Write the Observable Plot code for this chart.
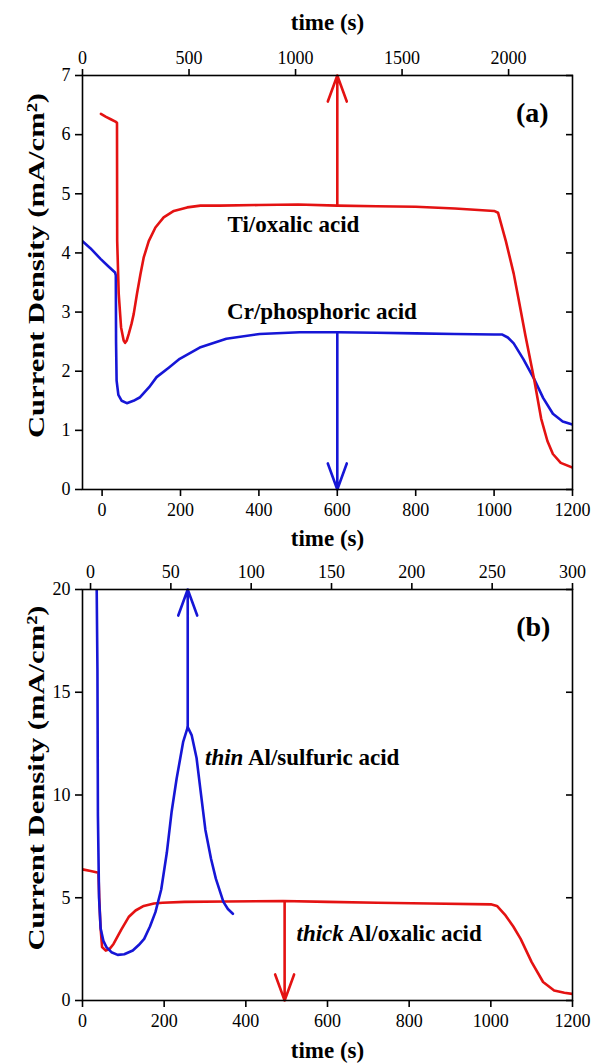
<!DOCTYPE html>
<html><head><meta charset="utf-8">
<script src="https://cdn.jsdelivr.net/npm/d3@7"></script>
<script src="https://cdn.jsdelivr.net/npm/@observablehq/plot@0.6"></script>
<style>
body{margin:0;background:#fff;}
#chart svg{display:block;}
</style>
</head><body><div id="chart"></div>
<script>
// ---------- Panel (a) data ----------
const aBottomDomain = [-50, 1200];
const aTopDomain = [0, 2300];
const aYDomain = [0, 7];
const aBottomTicks = [0, 200, 400, 600, 800, 1000, 1200];
const aTopTicks = [0, 500, 1000, 1500, 2000];
const aYTicks = [0, 1, 2, 3, 4, 5, 6, 7];

const aTiTime = [-3, 10, 22, 34, 38, 38.5, 42.4, 48.4, 55, 58.7, 63, 68, 75, 80.7, 89, 97.8, 106, 119, 136, 157, 183, 217, 251, 300, 400, 500, 600, 700, 800, 900, 950, 1000, 1010, 1030, 1050, 1063, 1080, 1102, 1120, 1136, 1150, 1170, 1200];
const aTiCurrent = [6.35, 6.3, 6.26, 6.22, 6.2, 4.2, 3.31, 2.74, 2.52, 2.48, 2.52, 2.63, 2.8, 2.97, 3.31, 3.64, 3.92, 4.2, 4.43, 4.6, 4.71, 4.77, 4.8, 4.8, 4.81, 4.82, 4.8, 4.79, 4.78, 4.75, 4.73, 4.71, 4.68, 4.2, 3.65, 3.2, 2.6, 1.87, 1.2, 0.82, 0.6, 0.45, 0.37];

const aCrTime = [-50, -30, -4, 15, 33, 35, 35.6, 37, 41.5, 50, 63, 80, 97, 120, 139, 170, 198, 249, 317, 402, 504, 600, 700, 800, 900, 1000, 1021, 1035, 1050, 1075, 1102, 1125, 1150, 1175, 1200];
const aCrCurrent = [4.2, 4.08, 3.9, 3.78, 3.67, 3.62, 2.5, 1.84, 1.6, 1.5, 1.46, 1.5, 1.56, 1.73, 1.9, 2.06, 2.21, 2.4, 2.55, 2.63, 2.66, 2.66, 2.65, 2.64, 2.63, 2.62, 2.62, 2.57, 2.47, 2.2, 1.87, 1.55, 1.28, 1.15, 1.1];

const aArrowTime = [600, 600];
const aArrowFrom = [4.8, 2.66];
const aArrowTo = [7, 0];
const aArrowSeries = ["Ti", "Cr"];

const aLabels = ["Ti/oxalic acid", "Cr/phosphoric acid", "(a)"];
const aLabelTime = [488, 561, 1139];
const aLabelValue = [4.48, 3.0, 6.37];

// ---------- Panel (b) data ----------
const bBottomDomain = [0, 1200];
const bTopDomain = [-5, 300];
const bYDomain = [0, 20];
const bBottomTicks = [0, 200, 400, 600, 800, 1000, 1200];
const bTopTicks = [0, 50, 100, 150, 200, 250, 300];
const bYTicks = [0, 5, 10, 15, 20];

const bThickTime = [0, 20, 39, 41, 44, 48, 57, 66, 76, 95, 113, 130, 150, 175, 196, 250, 350, 491, 600, 722, 850, 1000, 1015, 1036, 1055, 1073, 1100, 1128, 1155, 1180, 1200];
const bThickCurrent = [6.38, 6.3, 6.22, 5.0, 3.6, 2.6, 2.43, 2.5, 2.75, 3.45, 4.06, 4.38, 4.6, 4.72, 4.76, 4.8, 4.82, 4.84, 4.8, 4.76, 4.72, 4.68, 4.6, 4.14, 3.6, 3.0, 1.87, 0.9, 0.49, 0.38, 0.32];

// thin Al/sulfuric acid is read against the top time axis
const bThinTopTime = [3.6, 4.3, 4.6, 5.3, 6.3, 8, 9.9, 13, 16.9, 21, 26.3, 30, 33.4, 37, 40.4, 44, 47.5, 50.5, 53.6, 57.7, 60.5, 63, 66, 68.5, 71.5, 75, 78, 82.7, 85.5, 88.6];
const bThinCurrent = [22, 16.1, 9, 5, 3.5, 2.9, 2.6, 2.35, 2.22, 2.25, 2.43, 2.7, 3.0, 3.6, 4.3, 5.4, 7.2, 9.2, 10.8, 12.6, 13.3, 12.9, 11.8, 10.2, 8.3, 6.9, 5.93, 4.8, 4.45, 4.22];

const bArrowTopTime = [60.5];   // thin (top axis)
const bArrowBottomTime = [495]; // thick (bottom axis)
const bArrowFrom = [13.3, 4.8];
const bArrowTo = [20, 0];
const bArrowSeries = ["thin", "thick"];

const bLabels = ["thin Al/sulfuric acid", "thick Al/oxalic acid", "(b)"];
const bLabelTime = [538, 751, 1146];
const bLabelValue = [11.8, 3.25, 18.15];

// ---------- styling ----------
const RED = "#e41212";
const BLUE = "#1616d6";
const FONT = "'Liberation Serif', 'Times New Roman', serif";
const W = 591;
const yTitle = "Current Density (mA/cm\u00B2)";

function panel({height, marginTop, marginBottom, xDomain, yDomain, xTicks, topTicks, topDomain, yTicks, marks, bottomTitleDy}) {
  const toTop = d3.scaleLinear().domain(xDomain).range(topDomain);
  return Plot.plot({
    width: W, height, marginTop, marginBottom, marginLeft: 82, marginRight: 19,
    style: {fontFamily: FONT, fontSize: "18px", background: "white", color: "black"},
    x: {domain: xDomain},
    y: {domain: yDomain},
    marks: [
      ...marks,
      Plot.frame({stroke: "black", strokeWidth: 1.6}),
      Plot.axisX(xTicks, {anchor: "bottom", tickSize: 7, tickPadding: 7, label: null, strokeWidth: 1.6, tickFormat: d => String(d)}),
      Plot.axisX(topTicks.map(t => toTop.invert(t)), {anchor: "top", tickSize: 7, tickPadding: 5, label: null, strokeWidth: 1.6, tickFormat: d => String(Math.round(toTop(d)))}),
      Plot.axisY(yTicks, {anchor: "left", tickSize: 7, tickPadding: 5, label: null, strokeWidth: 1.6, tickFormat: d => String(d)}),
      Plot.axisY(yTicks, {anchor: "right", tickSize: -7, label: null, strokeWidth: 1.6, tickFormat: () => ""}),
      Plot.text(["time (s)"], {text: d => d, frameAnchor: "bottom", lineAnchor: "middle", dy: bottomTitleDy, fontSize: 23, fontWeight: "bold"}),
      Plot.text([yTitle], {text: d => d, frameAnchor: "left", textAnchor: "middle", lineAnchor: "middle", rotate: -90, dx: -46, dy: -17, fontSize: 24, fontWeight: "bold"})
    ]
  });
}

// Panel (a)
const aTi = aTiTime.map((t, i) => ({t, v: aTiCurrent[i]}));
const aCr = aCrTime.map((t, i) => ({t, v: aCrCurrent[i]}));
const aArrows = aArrowTime.map((t, i) => ({t, from: aArrowFrom[i], to: aArrowTo[i], s: aArrowSeries[i]}));
const aText = aLabels.map((s, i) => ({s, t: aLabelTime[i], v: aLabelValue[i]}));

const svgA = panel({
  height: 558, marginTop: 75, marginBottom: 69,
  xDomain: aBottomDomain, yDomain: aYDomain, xTicks: aBottomTicks, topTicks: aTopTicks, topDomain: aTopDomain, yTicks: aYTicks,
  bottomTitleDy: 49,
  marks: [
    Plot.line(aCr, {x: "t", y: "v", stroke: BLUE, strokeWidth: 2.6, clip: true}),
    Plot.line(aTi, {x: "t", y: "v", stroke: RED, strokeWidth: 2.6, clip: true}),
    Plot.arrow(aArrows, {x1: "t", x2: "t", y1: "from", y2: "to", stroke: d => d.s === "Ti" ? RED : BLUE, strokeWidth: 2.6, headLength: 16, headAngle: 40}),
    Plot.text(aText.slice(0, 2), {x: "t", y: "v", text: "s", fontSize: 23, fontWeight: "bold"}),
    Plot.text(aText.slice(2), {x: "t", y: "v", text: "s", fontSize: 28, fontWeight: "bold", textAnchor: "end"}),
    Plot.text(["time (s)"], {text: d => d, frameAnchor: "top", lineAnchor: "middle", dy: -53, fontSize: 23, fontWeight: "bold"})
  ]
});

// Panel (b)
const thinToBottom = d3.scaleLinear().domain(bTopDomain).range(bBottomDomain);
const bThick = bThickTime.map((t, i) => ({t, v: bThickCurrent[i]}));
const bThin = bThinTopTime.map((t, i) => ({t: thinToBottom(t), v: bThinCurrent[i]}));
const bArrowTimes = [thinToBottom(bArrowTopTime[0]), bArrowBottomTime[0]];
const bArrows = bArrowTimes.map((t, i) => ({t, from: bArrowFrom[i], to: bArrowTo[i], s: bArrowSeries[i]}));
const bText = bLabels.map((s, i) => ({s, t: bLabelTime[i], v: bLabelValue[i]}));

const svgB = panel({
  height: 505, marginTop: 31, marginBottom: 63,
  xDomain: bBottomDomain, yDomain: bYDomain, xTicks: bBottomTicks, topTicks: bTopTicks, topDomain: bTopDomain, yTicks: bYTicks,
  bottomTitleDy: 50,
  marks: [
    Plot.line(bThick, {x: "t", y: "v", stroke: RED, strokeWidth: 2.6, clip: true}),
    Plot.line(bThin, {x: "t", y: "v", stroke: BLUE, strokeWidth: 2.6, clip: true}),
    Plot.arrow(bArrows, {x1: "t", x2: "t", y1: "from", y2: "to", stroke: d => d.s === "thick" ? RED : BLUE, strokeWidth: 2.6, headLength: 16, headAngle: 40}),
    Plot.text(bText.slice(0, 2), {x: "t", y: "v", text: "s", fontSize: 23, fontWeight: "bold"}),
    Plot.text(bText.slice(2), {x: "t", y: "v", text: "s", fontSize: 28, fontWeight: "bold", textAnchor: "end"})
  ]
});

// post-process: italic first words, stretched y titles
for (const svg of [svgA, svgB]) {
  svg.querySelectorAll("text").forEach(el => {
    const s = el.textContent;
    if (s.startsWith("thin ") || s.startsWith("thick ")) {
      const k = s.indexOf(" ");
      el.textContent = "";
      const ns = "http://www.w3.org/2000/svg";
      const t1 = document.createElementNS(ns, "tspan");
      t1.setAttribute("font-style", "italic");
      t1.textContent = s.slice(0, k);
      const t2 = document.createElementNS(ns, "tspan");
      t2.textContent = s.slice(k);
      el.appendChild(t1); el.appendChild(t2);
    }
    if (s === yTitle) {
      el.setAttribute("textLength", "345");
      el.setAttribute("lengthAdjust", "spacingAndGlyphs");
    }
  });
}

const root = document.getElementById("chart");
root.appendChild(svgA);
root.appendChild(svgB);
</script>
</body></html>
